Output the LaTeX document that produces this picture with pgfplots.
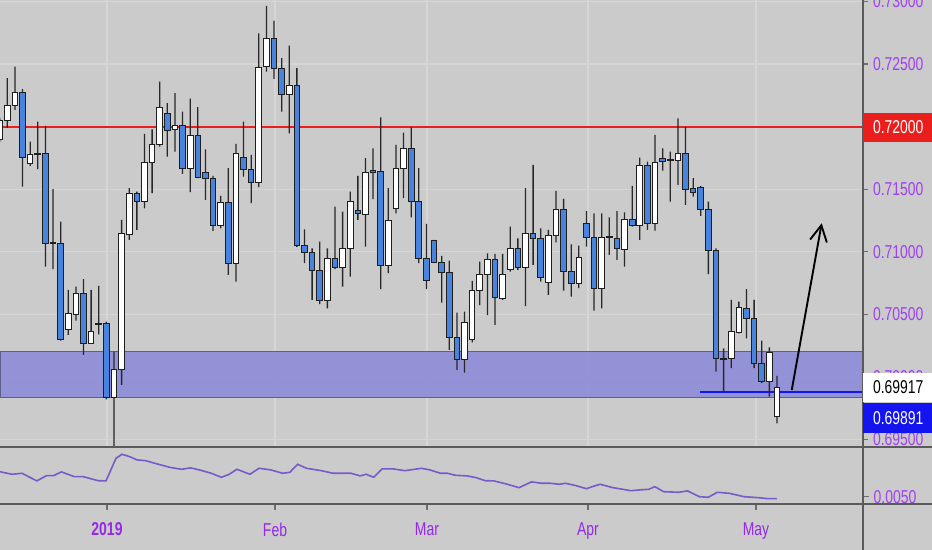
\documentclass[border=0pt]{standalone}
\usepackage{pgfplots}
\pgfplotsset{compat=1.18}
\usepackage{pgfplotstable}
\usepackage{fontspec}
\usetikzlibrary{arrows.meta}
\newfontfamily\labfam[FakeStretch=0.75]{Liberation Sans}
\newcommand\labfont{\labfam\fontsize{9.3pt}{11pt}\selectfont}
\definecolor{bg}{RGB}{203,203,203}
\definecolor{gridc}{RGB}{214,214,214}
\definecolor{zonefill}{RGB}{141,140,217}
\definecolor{zonedraw}{RGB}{95,95,140}
\definecolor{bluec}{RGB}{72,132,222}
\definecolor{outl}{RGB}{30,30,30}
\definecolor{wickc}{RGB}{40,40,40}
\definecolor{redl}{RGB}{235,30,30}
\definecolor{bluel}{RGB}{20,20,240}
\definecolor{labc}{RGB}{160,64,240}
\definecolor{monc}{RGB}{150,40,230}
\definecolor{ind}{RGB}{120,90,200}
\definecolor{sep}{RGB}{90,90,90}
\definecolor{tickc}{RGB}{110,110,110}

\pgfplotstableread{
i o h l c
0 0.71894 0.72070 0.71878 0.72048
1 0.72048 0.72387 0.71990 0.72171
2 0.72171 0.72479 0.72133 0.72272
3 0.72272 0.72299 0.71521 0.71756
4 0.71708 0.71880 0.71686 0.71779
5 0.71787 0.72040 0.71660 0.71774
6 0.71787 0.72006 0.70881 0.71068
7 0.71075 0.71500 0.70861 0.71067
8 0.71068 0.71241 0.70290 0.70296
9 0.70376 0.70695 0.70336 0.70509
10 0.70503 0.70722 0.70450 0.70669
11 0.70669 0.70781 0.70176 0.70269
12 0.70269 0.70695 0.70265 0.70362
13 0.70428 0.70727 0.70341 0.70420
14 0.70424 0.70442 0.69822 0.69838
15 0.69838 0.70202 0.67450 0.70062
16 0.70056 0.71255 0.69936 0.71148
17 0.71135 0.71508 0.71095 0.71462
18 0.71462 0.71481 0.71175 0.71401
19 0.71401 0.71942 0.71348 0.71716
20 0.71716 0.71979 0.71468 0.71859
21 0.71854 0.72360 0.71840 0.72152
22 0.72107 0.72187 0.71760 0.71966
23 0.71974 0.72267 0.71800 0.72006
24 0.72006 0.72120 0.71622 0.71662
25 0.71662 0.72224 0.71476 0.71926
26 0.71926 0.72155 0.71588 0.71593
27 0.71632 0.71819 0.71414 0.71582
28 0.71582 0.71606 0.71167 0.71207
29 0.71207 0.71446 0.71188 0.71393
30 0.71393 0.71668 0.70815 0.70909
31 0.70909 0.71862 0.70762 0.71782
32 0.71756 0.72040 0.71601 0.71654
33 0.71654 0.71774 0.71388 0.71553
34 0.71553 0.72746 0.71516 0.72475
35 0.72479 0.72964 0.72439 0.72706
36 0.72706 0.72847 0.72381 0.72461
37 0.72461 0.72547 0.72120 0.72259
38 0.72259 0.72647 0.71947 0.72328
39 0.72328 0.72467 0.71040 0.71047
40 0.71047 0.71180 0.70909 0.70996
41 0.70996 0.71028 0.70615 0.70847
42 0.70847 0.71081 0.70583 0.70615
43 0.70615 0.71028 0.70549 0.70949
44 0.70949 0.71361 0.70861 0.70877
45 0.70877 0.71321 0.70722 0.71028
46 0.71028 0.71481 0.70801 0.71401
47 0.71329 0.71606 0.71255 0.71308
48 0.71300 0.71748 0.71041 0.71636
49 0.71646 0.71827 0.71420 0.71636
50 0.71640 0.72075 0.70701 0.70889
51 0.70889 0.71508 0.70829 0.71249
52 0.71348 0.71854 0.71308 0.71662
53 0.71662 0.71952 0.71428 0.71827
54 0.71827 0.71995 0.71276 0.71401
55 0.71401 0.71668 0.70909 0.70949
56 0.70949 0.71223 0.70701 0.70767
57 0.71089 0.71095 0.70909 0.70917
58 0.70917 0.70967 0.70594 0.70837
59 0.70837 0.70929 0.70216 0.70317
60 0.70317 0.70514 0.70056 0.70136
61 0.70136 0.70522 0.70034 0.70434
62 0.70296 0.70767 0.70277 0.70687
63 0.70687 0.70921 0.70575 0.70815
64 0.70815 0.70988 0.70495 0.70941
65 0.70941 0.70983 0.70416 0.70634
66 0.70629 0.70983 0.70615 0.70815
67 0.70855 0.71201 0.70841 0.71028
68 0.71028 0.71108 0.70855 0.70877
69 0.70877 0.71508 0.70567 0.71148
70 0.71148 0.71694 0.70895 0.71108
71 0.71108 0.71188 0.70762 0.70793
72 0.70754 0.71175 0.70655 0.71129
73 0.71129 0.71486 0.71076 0.71342
74 0.71342 0.71422 0.70690 0.70841
75 0.70841 0.71060 0.70642 0.70743
76 0.70743 0.71049 0.70709 0.70957
77 0.71223 0.71326 0.71041 0.71116
78 0.71116 0.71308 0.70530 0.70703
79 0.70703 0.71308 0.70549 0.71116
80 0.71119 0.71276 0.70975 0.71111
81 0.71108 0.71326 0.70935 0.71028
82 0.71020 0.71316 0.70881 0.71260
83 0.71260 0.71526 0.71201 0.71207
84 0.71207 0.71752 0.71095 0.71686
85 0.71686 0.71720 0.71175 0.71228
86 0.71228 0.71934 0.71169 0.71716
87 0.71748 0.71827 0.71648 0.71720
88 0.71734 0.71800 0.71401 0.71726
89 0.71728 0.72067 0.71534 0.71787
90 0.71787 0.72000 0.71374 0.71500
91 0.71502 0.71588 0.71441 0.71476
92 0.71516 0.71526 0.71287 0.71340
93 0.71340 0.71401 0.70821 0.71009
94 0.71009 0.71028 0.70042 0.70144
95 0.70148 0.70229 0.69883 0.70140
96 0.70144 0.70615 0.70070 0.70362
97 0.70357 0.70602 0.70349 0.70557
98 0.70549 0.70701 0.70309 0.70469
99 0.70469 0.70615 0.70070 0.70104
100 0.70104 0.70290 0.69950 0.69963
101 0.69963 0.70237 0.69843 0.70194
102 0.69683 0.70008 0.69630 0.69918
}\candles

\pgfplotstableread{
x v
0 0.00625
11.9 0.00612
22 0.00617
36.9 0.00579
46.4 0.00605
53.6 0.00605
61.3 0.00624
74.4 0.00600
83.3 0.00600
98.2 0.00580
106 0.00579
116 0.00692
122 0.00712
129.8 0.00700
136.9 0.00684
145.8 0.00680
154.8 0.00667
169.6 0.00647
181.5 0.00637
190.5 0.00644
199.4 0.00634
211.3 0.00617
221.4 0.00597
229.2 0.00612
236.9 0.00637
250 0.00612
258.9 0.00642
270.8 0.00634
282.7 0.00617
289.9 0.00622
297.6 0.00662
306.5 0.00642
321.4 0.00630
333.3 0.00617
351.2 0.00617
360.1 0.00604
366.1 0.00612
373.8 0.00597
382.1 0.00639
392.9 0.00639
404.8 0.00630
421.4 0.00642
429.8 0.00634
440.5 0.00617
447.6 0.00617
455.4 0.00607
467.3 0.00604
476.2 0.00595
485.1 0.00580
494 0.00579
506 0.00564
519 0.00545
531.5 0.00574
541.7 0.00567
550.6 0.00567
559.5 0.00562
565.5 0.00567
576.2 0.00555
586.3 0.00540
592.3 0.00550
600 0.00562
613.1 0.00545
631 0.00530
639.9 0.00534
648.8 0.00537
654.8 0.00550
663.7 0.00525
678.6 0.00522
687.5 0.00529
699.4 0.00500
708.3 0.00497
717.3 0.00522
729.2 0.00517
744 0.00500
758.9 0.00495
767.9 0.00490
776.8 0.00490
}\indic

\pgfplotsset{panemain/.style={at={(0pt,51.65pt)}, anchor=south west, scale only axis,
  width=431.5pt, height=223.35pt, xmin=0.04, xmax=113.29, ymin=0.69443, ymax=0.73012,
  clip=true, scaled ticks=false}}

\begin{document}
\begin{tikzpicture}
\fill[bg] (0,0) rectangle (466pt,275pt);

% main pane: grid, zone, levels
\begin{axis}[panemain,
  axis line style={draw=none},
  xtick=\empty,
  ytick pos=right, tick align=outside,
  major tick length=2.5pt,
  ymajorgrids,
  grid style={gridc, line width=0.6pt},
  ytick={0.695,0.700,0.705,0.710,0.715,0.720,0.725,0.730},
  yticklabels={0.69500,0.70000,0.70500,0.71000,0.71500,0.72000,0.72500,0.73000},
  tick style={tickc, line width=0.6pt},
  yticklabel style={font=\labfont, text=labc, xshift=-1pt},
  unbounded coords=jump,
]
\addplot[gridc, line width=0.6pt] coordinates {(14.08,0.69443) (14.08,0.73012) (14.08,nan)
  (36.13,0.69443) (36.13,0.73012) (36.13,nan) (56.08,0.69443) (56.08,0.73012) (56.08,nan)
  (77.2,0.69443) (77.2,0.73012) (77.2,nan) (99.25,0.69443) (99.25,0.73012)};
\addplot[fill=zonefill, fill opacity=0.9, draw=zonedraw, line width=0.5pt] coordinates {(0.04,0.69835) (113.29,0.69835) (113.29,0.70202) (0.04,0.70202)} -- cycle;
\addplot[redl, line width=1pt] coordinates {(0.04,0.72) (113.29,0.72)};
\addplot[bluel, line width=1pt] coordinates {(91.9,0.69883) (113.29,0.69883)};
\addplot[black, line width=0.95pt, -{Straight Barb[length=8pt,width=8.5pt]}] coordinates {(103.94,0.69896) (107.87,0.71228)};
\end{axis}

% wicks
\begin{axis}[panemain, hide axis, ybar stacked, bar width=0.17]
\addplot[draw=none, fill=none] table[x=i, y=l] \candles;
\addplot[draw=none, fill=wickc] table[x=i, y expr={\thisrow{h}-\thisrow{l}}] \candles;
\end{axis}

% bodies
\begin{axis}[panemain, hide axis, ybar stacked, bar width=0.74]
\addplot[draw=none, fill=none] table[x=i, y expr={min(\thisrow{o},\thisrow{c})}] \candles;
\addplot[fill=bluec, draw=outl, line width=0.5pt] table[x=i, y expr={max(\thisrow{o}-\thisrow{c},0)}] \candles;
\addplot[fill=white, draw=outl, line width=0.5pt] table[x=i, y expr={max(\thisrow{c}-\thisrow{o},0)}] \candles;
\end{axis}

% cover below main pane
\fill[bg] (0,0) rectangle (466pt,51.65pt);

% indicator pane
\begin{axis}[at={(0pt,22.85pt)}, anchor=south west, scale only axis,
  width=431.5pt, height=28.8pt, xmin=0, xmax=863, ymin=0.00462, ymax=0.0075,
  axis line style={draw=none}, scaled ticks=false,
  xtick={107,275,427,588,756}, xticklabels={\textbf{2019},Feb,Mar,Apr,May},
  xtick pos=left, ytick pos=right, tick align=outside, major tick length=2.8pt,
  ytick={0.005}, yticklabels={0.0050},
  tick style={tickc, line width=0.6pt},
  ticklabel style={font=\labfont},
  xticklabel style={text=monc, yshift=-3pt}, yticklabel style={text=labc, xshift=-1pt},
  clip=true]
\addplot[ind, line width=0.8pt] table[x=x, y=v] \indic;
\end{axis}

\draw[sep, line width=1pt] (0,51.65pt) -- (466pt,51.65pt);
\draw[sep, line width=1pt] (0,22.85pt) -- (466pt,22.85pt);
\draw[sep, line width=0.75pt] (431.5pt,0) -- (431.5pt,275pt);

\fill[redl] (431.5pt,204.15pt) rectangle (466pt,218.65pt);
\node[anchor=west, inner sep=0pt, text=white, font=\labfont] at (436.3pt,211.4pt) {0.72000};
\fill[white] (431.5pt,74.15pt) rectangle (466pt,88.65pt);
\node[anchor=west, inner sep=0pt, text=black, font=\labfont] at (436.3pt,81.4pt) {0.69917};
\fill[bluel] (431.5pt,58.65pt) rectangle (466pt,73.65pt);
\node[anchor=west, inner sep=0pt, text=white, font=\labfont] at (436.3pt,66.15pt) {0.69891};

\pgfresetboundingbox
\path[use as bounding box] (0,0) rectangle (466pt,275pt);
\end{tikzpicture}
\end{document}
